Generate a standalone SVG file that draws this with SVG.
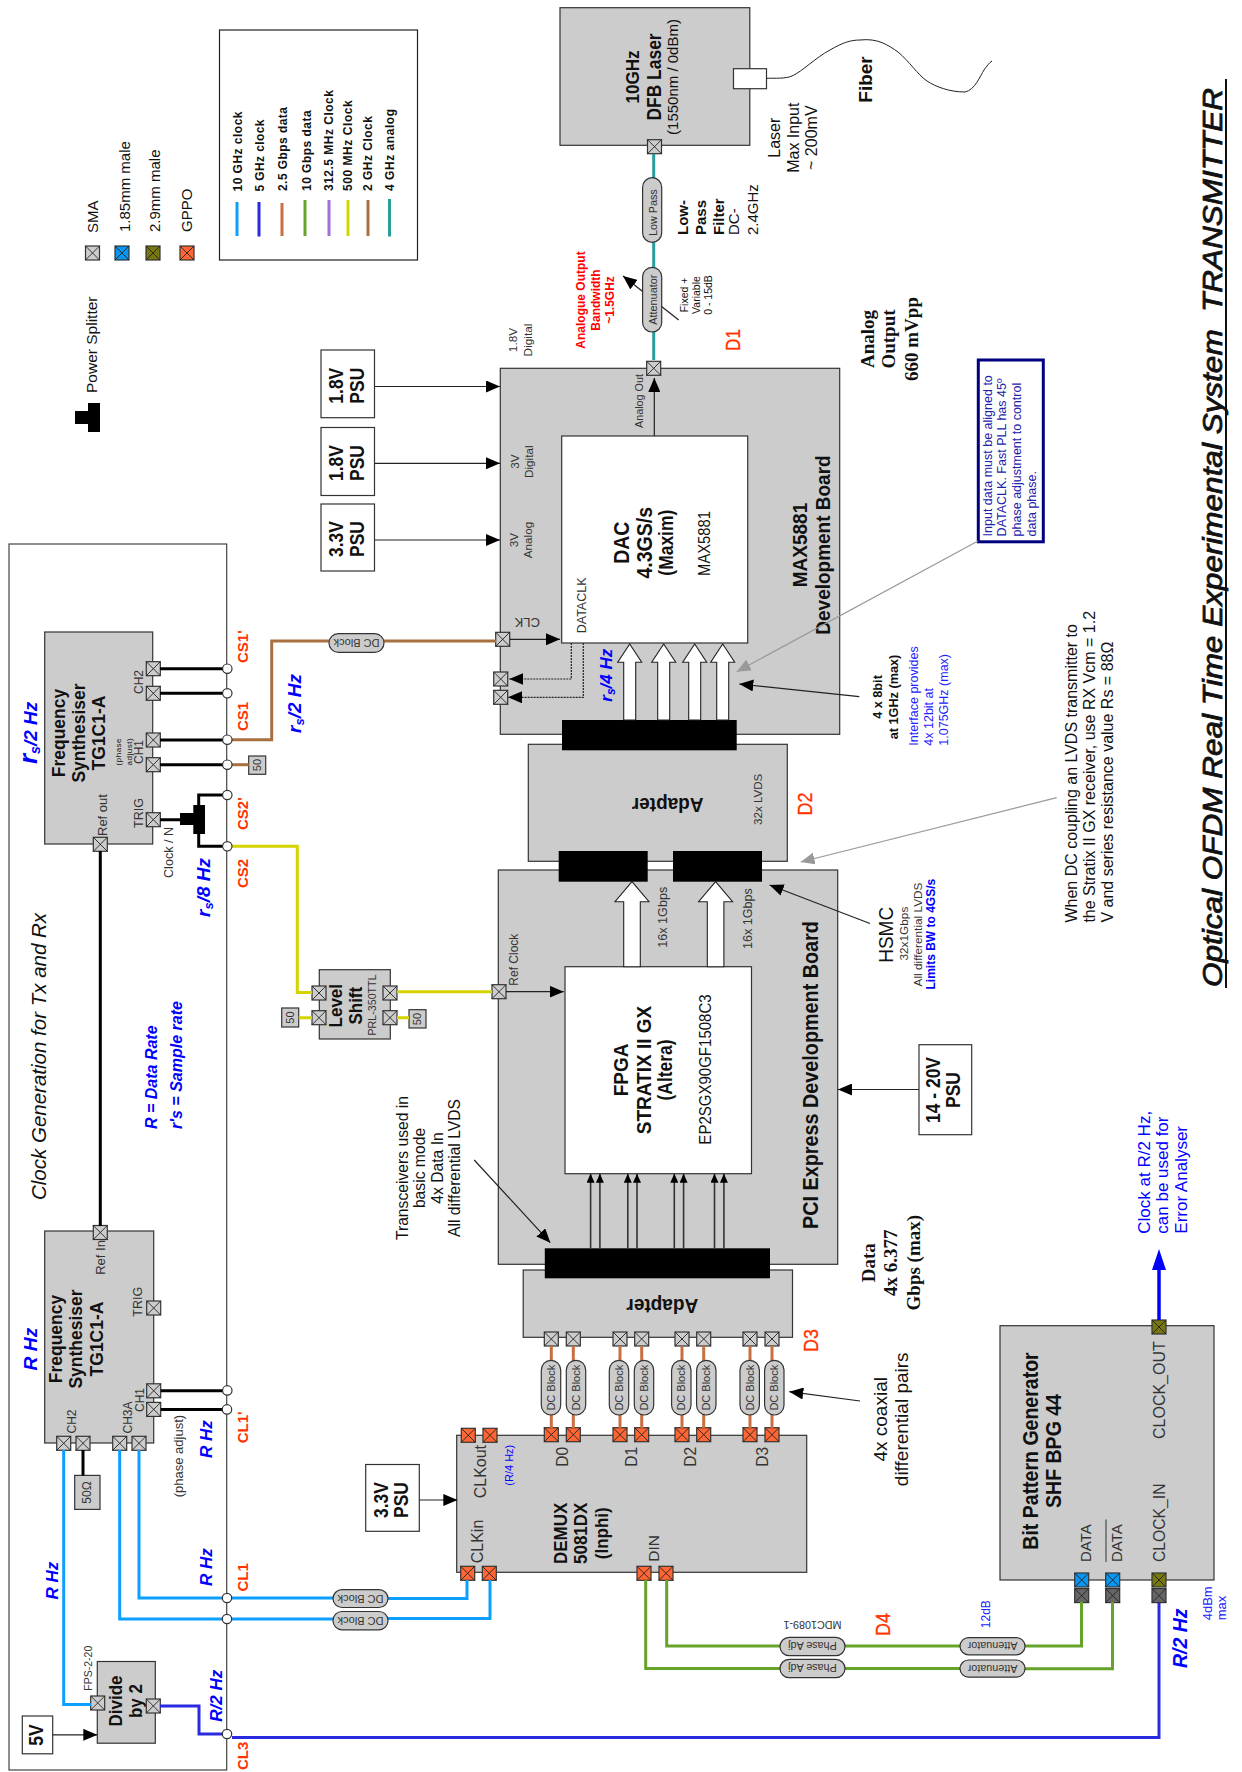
<svg xmlns="http://www.w3.org/2000/svg" xmlns:xlink="http://www.w3.org/1999/xlink" width="1242" height="1772" viewBox="0 0 1242 1772">
<style>
text{font-family:"Liberation Sans",Arial,sans-serif;fill:#111}
.b{font-weight:700}.m{text-anchor:middle}.i{font-style:italic}
.g{fill:#333}.bl{fill:#0000ff}.biz{font-weight:700;font-style:italic;fill:#0000ff}
.red{fill:#ff3300;font-weight:700;font-size:15px}
.dl{fill:#ff3300;stroke:#ff3300;stroke-width:.35}
.ser{font-family:"Liberation Serif","Times New Roman",serif;font-weight:700;font-size:19px}
.box{fill:#cccccc;stroke:#333;stroke-width:1.2}
.wh{fill:#fff;stroke:#333;stroke-width:1.2}
.cap{fill:#cccccc;stroke:#333;stroke-width:1.2}
.w{fill:none;stroke-width:3;stroke-linejoin:miter}
.blk{stroke:#000}.sky{stroke:#0d9fff}.dbl{stroke:#2a2ae0}.org{stroke:#c87040}.grn{stroke:#66a32a}.pur{stroke:#a070d8}.yel{stroke:#d4d400}.brn{stroke:#a87040}.tea{stroke:#2a9d9d}
.thin{fill:none;stroke:#222;stroke-width:1.2}
.gr{fill:none;stroke:#999;stroke-width:1.2}
.pc{fill:#fff;stroke:#333;stroke-width:1.2}
.x{fill:none;stroke:#222;stroke-width:.9}
.bar{fill:#000}
.ba{fill:#fff;stroke:#222;stroke-width:1.1}
.cb{fill:#2222aa}.ib{fill:#2222ff}
</style>
<defs>
<path id="xx" class="x" d="M-7-7L7 7M7-7L-7 7"/>
<g id="pS"><rect x="-7" y="-7" width="14" height="14" fill="#ccc" stroke="#333" stroke-width="1.2"/><use xlink:href="#xx"/></g>
<g id="pG"><rect x="-7" y="-7" width="14" height="14" fill="#ff6633" stroke="#333" stroke-width="1.2"/><use xlink:href="#xx"/></g>
<g id="pB"><rect x="-7" y="-7" width="14" height="14" fill="#0a96ee" stroke="#333" stroke-width="1.2"/><use xlink:href="#xx"/></g>
<g id="pO"><rect x="-7" y="-7" width="14" height="14" fill="#777711" stroke="#333" stroke-width="1.2"/><use xlink:href="#xx"/></g>
<g id="pD"><rect x="-7" y="-7" width="14" height="14" fill="#666" stroke="#333" stroke-width="1.2"/><use xlink:href="#xx"/></g>
<marker id="a" markerUnits="userSpaceOnUse" markerWidth="14" markerHeight="12" refX="14" refY="6" orient="auto"><path d="M0 0L14 6L0 12z" fill="#000"/></marker>
<marker id="as" markerUnits="userSpaceOnUse" markerWidth="9" markerHeight="8" refX="9" refY="4" orient="auto"><path d="M0 0L9 4L0 8z" fill="#000"/></marker>
<marker id="ag" markerUnits="userSpaceOnUse" markerWidth="14" markerHeight="12" refX="14" refY="6" orient="auto"><path d="M0 0L14 6L0 12z" fill="#999"/></marker>
</defs>

<g id="title">
<text transform="translate(1221.5 987) rotate(-90)" class="i" font-size="28" stroke="#111" stroke-width=".8" textLength="899" lengthAdjust="spacingAndGlyphs" xml:space="preserve">Optical OFDM Real Time Experimental System  TRANSMITTER</text>
<line x1="1226" y1="988" x2="1226" y2="79" stroke="#111" stroke-width="2"/>
</g>

<g id="legend">
<use xlink:href="#pS" x="92.5" y="253"/><use xlink:href="#pB" x="122" y="253"/><use xlink:href="#pO" x="153" y="253"/><use xlink:href="#pG" x="187" y="253"/>
<text transform="translate(98 233) rotate(-90)" font-size="15">SMA</text>
<text transform="translate(129.7 232) rotate(-90)" font-size="15">1.85mm male</text>
<text transform="translate(160 232) rotate(-90)" font-size="15">2.9mm male</text>
<text transform="translate(191.8 232) rotate(-90)" font-size="15">GPPO</text>
<text transform="translate(97 393) rotate(-90)" font-size="15.5">Power Splitter</text>
<path class="bar" d="M88 403H100V432H88V424H75V411H88z"/>
<rect x="219.5" y="30" width="198" height="230" fill="#fff" stroke="#222" stroke-width="1.2"/>
<g font-size="12" font-weight="700">
<text transform="translate(242 191.5) rotate(-90)" textLength="80">10 GHz clock</text>
<text transform="translate(264 191.5) rotate(-90)" textLength="72">5 GHz clock</text>
<text transform="translate(286.7 191) rotate(-90)" textLength="84">2.5 Gbps data</text>
<text transform="translate(311 191) rotate(-90)" textLength="80.7">10 Gbps data</text>
<text transform="translate(333.3 191) rotate(-90)" textLength="101">312.5 MHz Clock</text>
<text transform="translate(352.3 191) rotate(-90)" textLength="90.7">500 MHz Clock</text>
<text transform="translate(371.7 191) rotate(-90)" textLength="75">2 GHz Clock</text>
<text transform="translate(394.2 191) rotate(-90)" textLength="82">4 GHz analog</text>
</g>
<g class="w">
<line class="sky" x1="237" y1="202" x2="237" y2="236"/>
<line class="dbl" x1="259" y1="202" x2="259" y2="236.5"/>
<line class="org" x1="282" y1="203" x2="282" y2="236"/>
<line class="grn" x1="305" y1="200" x2="305" y2="236"/>
<line class="pur" x1="329" y1="200" x2="329" y2="236"/>
<line class="yel" x1="348" y1="200" x2="348" y2="236"/>
<line class="brn" x1="368" y1="200" x2="368" y2="236"/>
<line class="tea" x1="389.5" y1="199" x2="389.5" y2="236.5"/>
</g>
</g>

<g id="frame"><rect x="9" y="544" width="217.7" height="1226" fill="#fff" stroke="#444" stroke-width="1.2"/>
<text transform="translate(45.7 1200) rotate(-90)" class="i" font-size="20.5">Clock Generation for Tx and Rx</text>
<text transform="translate(156.7 1129) rotate(-90)" class="biz" font-size="16">R = Data Rate</text>
<text transform="translate(182 1129) rotate(-90)" class="biz" font-size="16">r's = Sample rate</text>
</g>

<g id="nodes">
<g id="psu18a"><rect class="wh" x="321" y="350" width="53.5" height="67.7"/><text transform="translate(343 385.7) rotate(-90) scale(.9 1)" class="b m" font-size="19.4"><tspan x="0">1.8V</tspan><tspan x="0" dy="20.8">PSU</tspan></text></g>
<g id="psu18b"><rect class="wh" x="321" y="427.5" width="53.5" height="68"/><text transform="translate(343 463) rotate(-90) scale(.9 1)" class="b m" font-size="19.4"><tspan x="0">1.8V</tspan><tspan x="0" dy="20.8">PSU</tspan></text></g>
<g id="psu33a"><rect class="wh" x="321" y="504" width="53.5" height="67"/><text transform="translate(343 539) rotate(-90) scale(.9 1)" class="b m" font-size="19.4"><tspan x="0">3.3V</tspan><tspan x="0" dy="20.8">PSU</tspan></text></g>
<g id="psu1420"><rect class="wh" x="919" y="1044.7" width="52.7" height="90"/><text transform="translate(940 1090) rotate(-90) scale(.9 1)" class="b m" font-size="19.4"><tspan x="0">14 - 20V</tspan><tspan x="0" dy="20">PSU</tspan></text></g>
<g id="psu33b"><rect class="wh" x="365.7" y="1464.5" width="53.6" height="66.8"/><text transform="translate(388.3 1500) rotate(-90) scale(.9 1)" class="b m" font-size="19.4"><tspan x="0">3.3V</tspan><tspan x="0" dy="20">PSU</tspan></text></g>
<g id="psu5"><rect class="wh" x="22.3" y="1716" width="30.4" height="37.8"/><text transform="translate(43.3 1735) rotate(-90) scale(.9 1)" class="b m" font-size="19.4">5V</text></g>

<g id="laser"><rect class="box" x="560" y="7.7" width="189.8" height="137.6"/>
<rect class="wh" x="733.5" y="68.7" width="33" height="20"/>
<text transform="translate(639 77) rotate(-90) scale(.9 1)" class="b m" font-size="18.9">10GHz</text>
<text transform="translate(660.5 77) rotate(-90) scale(.9 1)" class="b m" font-size="19.4">DFB Laser</text>
<text transform="translate(678 77) rotate(-90)" class="m" font-size="15">(1550nm / 0dBm)</text>
<use xlink:href="#pS" x="654.5" y="146.7"/></g>
<g id="notes-top">
<text transform="translate(872 102.7) rotate(-90)" class="b" font-size="19">Fiber</text>
<text transform="translate(780 137.7) rotate(-90)" class="m" font-size="16"><tspan x="0">Laser</tspan><tspan x="0" dy="18.5">Max Input</tspan><tspan x="0" dy="18">~ 200mV</tspan></text>
<g font-size="15"><text transform="translate(688 235) rotate(-90)" class="b">Low-</text><text transform="translate(706 235) rotate(-90)" class="b">Pass</text><text transform="translate(724 235) rotate(-90)" class="b">Filter</text><text transform="translate(739 235) rotate(-90)">DC-</text><text transform="translate(757.7 235) rotate(-90)">2.4GHz</text></g>
<text transform="translate(687.5 295) rotate(-90)" class="m" font-size="10.5"><tspan x="0">Fixed +</tspan><tspan x="0" dy="12">Variable</tspan><tspan x="0" dy="12.5">0 - 15dB</tspan></text>
<text transform="translate(585 300) rotate(-90)" class="b m" font-size="12" style="fill:#ff0000"><tspan x="0">Analogue Output</tspan><tspan x="0" dy="15">Bandwidth</tspan><tspan x="0" dy="14">~1.5GHz</tspan></text>
<text transform="translate(517 340) rotate(-90)" class="m g" font-size="11.8"><tspan x="0">1.8V</tspan><tspan x="0" dy="15">Digital</tspan></text>
<text class="dl" transform="translate(740 351) rotate(-90)" font-size="21" textLength="22" lengthAdjust="spacingAndGlyphs">D1</text>
<text transform="translate(874 339) rotate(-90)" class="ser m"><tspan x="0">Analog</tspan><tspan x="0" dy="20.6">Output</tspan><tspan x="0" dy="23">660 mVpp</tspan></text>
</g>
<g id="callout"><rect x="978.3" y="360" width="65" height="181.8" fill="#fff" stroke="#000080" stroke-width="3"/>
<g font-size="12.5"><text class="cb" transform="translate(991.7 536.4) rotate(-90)">Input data must be aligned to</text><text class="cb" transform="translate(1006 536.4) rotate(-90)">DATACLK. Fast PLL has 45º</text><text class="cb" transform="translate(1021 536.4) rotate(-90)">phase adjustment to control</text><text class="cb" transform="translate(1035.7 536.4) rotate(-90)">data phase.</text></g></g>

<g id="dac-board"><rect class="box" x="500.3" y="368.3" width="339.4" height="366"/>
<rect class="wh" x="561.7" y="436" width="186" height="207"/>
<text transform="translate(519.3 461.7) rotate(-90)" class="m g" font-size="11.7"><tspan x="0">3V</tspan><tspan x="0" dy="13.4">Digital</tspan></text>
<text transform="translate(518.3 540) rotate(-90)" class="m g" font-size="11.7"><tspan x="0">3V</tspan><tspan x="0" dy="14">Analog</tspan></text>
<text transform="translate(643.3 428) rotate(-90)" class="g" font-size="10.8">Analog Out</text>
<text transform="translate(585.7 633.3) rotate(-90)" class="g" font-size="12.5">DATACLK</text>
<text x="527.3" y="618.3" transform="rotate(180 527.3 618.3)" class="m g" font-size="13">CLK</text>
<text transform="translate(629 542.7) rotate(-90) scale(.9 1)" class="b m" font-size="21.7"><tspan x="0">DAC</tspan><tspan x="0" dy="22.7">4.3GS/s</tspan></text>
<text transform="translate(673.3 542.7) rotate(-90) scale(.9 1)" class="b m" font-size="19.4">(Maxim)</text>
<text transform="translate(710 543.5) rotate(-90) scale(.9 1)" class="m" font-size="16.4">MAX5881</text>
<text transform="translate(806.7 545) rotate(-90) scale(.9 1)" class="b m" font-size="21.1"><tspan x="0" dy="0">MAX5881</tspan><tspan x="0" dy="23.3">Development Board</tspan></text>
<text transform="translate(611.7 701.7) rotate(-90)" class="biz" font-size="17">r<tspan font-size="12" dy="3">s</tspan><tspan dy="-3">/4 Hz</tspan></text>
<use xlink:href="#pS" x="653.7" y="368.3"/><use xlink:href="#pS" x="502.7" y="639.3"/><use xlink:href="#pS" x="500.7" y="679"/><use xlink:href="#pS" x="500.7" y="697.3"/>
</g>

<g id="adapter-top"><rect class="box" x="528.3" y="744.3" width="259" height="117"/>
<text transform="translate(667.7 798.3) rotate(180) scale(.9 1)" class="b m" font-size="21.1">Adapter</text>
<text transform="translate(761.7 825) rotate(-90)" class="g" font-size="11.6">32x LVDS</text>
<text class="dl" transform="translate(812.3 815.5) rotate(-90)" font-size="21" textLength="23" lengthAdjust="spacingAndGlyphs">D2</text>
</g>

<g id="pci-board"><rect class="box" x="498.3" y="870" width="339.4" height="394.3"/>
<rect class="wh" x="565" y="966.7" width="186.5" height="207"/>
<text transform="translate(518.3 985.7) rotate(-90)" class="g" font-size="12">Ref Clock</text>
<text transform="translate(667 947.7) rotate(-90)" class="g" font-size="12.6">16x 1Gbps</text>
<text transform="translate(751.7 949) rotate(-90)" class="g" font-size="12.6">16x 1Gbps</text>
<text transform="translate(627.8 1070) rotate(-90) scale(.9 1)" class="b m" font-size="21.1"><tspan x="0">FPGA</tspan><tspan x="0" dy="23">STRATIX II GX</tspan></text>
<text transform="translate(671.5 1070) rotate(-90) scale(.9 1)" class="b m" font-size="19.4">(Altera)</text>
<text transform="translate(711 1069.5) rotate(-90) scale(.9 1)" class="m" font-size="16.7">EP2SGX90GF1508C3</text>
<text transform="translate(818 1075) rotate(-90) scale(.9 1)" class="b m" font-size="22">PCI Express Development Board</text>
<use xlink:href="#pS" x="499" y="991.7"/>
</g>

<g id="adapter-bottom"><rect class="box" x="523.2" y="1270" width="269.3" height="67.3"/>
<text transform="translate(662.3 1299) rotate(180) scale(.9 1)" class="b m" font-size="21.1">Adapter</text>
<use xlink:href="#pS" x="551.3" y="1339"/><use xlink:href="#pS" x="573.3" y="1339"/><use xlink:href="#pS" x="620" y="1339"/><use xlink:href="#pS" x="641.7" y="1339"/><use xlink:href="#pS" x="682" y="1339"/><use xlink:href="#pS" x="703.7" y="1339"/><use xlink:href="#pS" x="750" y="1339"/><use xlink:href="#pS" x="772" y="1339"/>
<text class="dl" transform="translate(817.7 1352) rotate(-90)" font-size="21" textLength="23" lengthAdjust="spacingAndGlyphs">D3</text>
</g>

<g id="bars"><rect class="bar" x="562" y="720" width="174.7" height="30.3"/><rect class="bar" x="558.7" y="851" width="89" height="30.7"/><rect class="bar" x="673" y="851" width="89" height="30.7"/><rect class="bar" x="544.8" y="1248.3" width="225.2" height="30"/></g>

<g id="block-arrows">
<path class="ba" d="M623.7 720V662.3H617.7L629.7 644L641.7 662.3H635.7V720z"/>
<path class="ba" d="M657.7 720V662.3H651.7L663.7 644L675.7 662.3H669.7V720z"/>
<path class="ba" d="M688.7 720V662.3H682.7L694.7 644L706.7 662.3H700.7V720z"/>
<path class="ba" d="M716.7 720V662.3H710.7L722.7 644L734.7 662.3H728.7V720z"/>
<path class="ba" d="M623.7 966.7V901.7H615L632 881.7L649 901.7H640.3V966.7z"/>
<path class="ba" d="M707.3 966.7V901.7H698.6L715.6 881.7L732.6 901.7H723.9V966.7z"/>
</g>

<g id="fs-top"><rect class="box" x="44.7" y="632" width="108" height="212"/>
<text transform="translate(65 733) rotate(-90) scale(.92 1)" class="b m" font-size="19"><tspan x="0">Frequency</tspan><tspan x="0" dy="20">Synthesiser</tspan><tspan x="0" dy="20">TG1C1-A</tspan></text>
<text transform="translate(106.7 836) rotate(-90)" class="g" font-size="13">Ref out</text>
<text transform="translate(143 694) rotate(-90)" class="g" font-size="12">CH2</text>
<text transform="translate(143 764) rotate(-90)" class="g" font-size="12">CH1</text>
<text transform="translate(143 828) rotate(-90)" class="g" font-size="12.5">TRIG</text>
<text transform="translate(120.7 751.7) rotate(-90)" class="m" font-size="8" letter-spacing=".5"><tspan x="0">(phase</tspan><tspan x="0" dy="11">adjust)</tspan></text>
<use xlink:href="#pS" x="153.3" y="668.7"/><use xlink:href="#pS" x="153.3" y="693.3"/><use xlink:href="#pS" x="153.3" y="740"/><use xlink:href="#pS" x="153.3" y="764.7"/><use xlink:href="#pS" x="153.3" y="819.7"/><use xlink:href="#pS" x="100.3" y="844.3"/>
</g>
<g id="fs-bottom"><rect class="box" x="44.7" y="1231" width="109" height="212"/>
<text transform="translate(62.3 1339) rotate(-90) scale(.92 1)" class="b m" font-size="19"><tspan x="0">Frequency</tspan><tspan x="0" dy="20">Synthesiser</tspan><tspan x="0" dy="20.4">TG1C1-A</tspan></text>
<text transform="translate(105 1274.8) rotate(-90)" class="g" font-size="13">Ref In</text>
<text transform="translate(141.7 1316.7) rotate(-90)" class="g" font-size="12.5">TRIG</text>
<text transform="translate(144 1412) rotate(-90)" class="g" font-size="12">CH1</text>
<text transform="translate(131.7 1433.5) rotate(-90)" class="g" font-size="12">CH3A</text>
<text transform="translate(76 1433.5) rotate(-90)" class="g" font-size="12">CH2</text>
<use xlink:href="#pS" x="100.3" y="1232.5"/><use xlink:href="#pS" x="153.7" y="1308"/><use xlink:href="#pS" x="153.7" y="1390.8"/><use xlink:href="#pS" x="153.7" y="1409.4"/><use xlink:href="#pS" x="63.7" y="1443.3"/><use xlink:href="#pS" x="83" y="1443.3"/><use xlink:href="#pS" x="119.7" y="1443.3"/><use xlink:href="#pS" x="139" y="1443.3"/>
</g>
<g id="term50"><rect class="box" x="74.7" y="1475.4" width="25.3" height="34"/><text transform="translate(91 1492.5) rotate(-90)" class="m g" font-size="12">50Ω</text></g>
<g id="divide"><rect class="box" x="97.3" y="1661.5" width="58" height="81.7"/>
<text transform="translate(121.7 1701) rotate(-90) scale(.9 1)" class="b m" font-size="18.9"><tspan x="0">Divide</tspan><tspan x="0" dy="20">by 2</tspan></text>
<text transform="translate(91.7 1690.7) rotate(-90)" class="g" font-size="10.5">FPS-2-20</text>
<use xlink:href="#pS" x="97.7" y="1703"/><use xlink:href="#pS" x="153.3" y="1706"/></g>

<g id="level-shift"><rect class="box" x="319.3" y="969.7" width="71" height="69.3"/>
<text transform="translate(342.3 1005.7) rotate(-90) scale(.9 1)" class="b m" font-size="18.9"><tspan x="0">Level</tspan><tspan x="0" dy="19.7">Shift</tspan></text>
<text transform="translate(375.7 1005) rotate(-90)" class="m g" font-size="10.7">PRL-350TTL</text>
<use xlink:href="#pS" x="319" y="993"/><use xlink:href="#pS" x="319" y="1017.7"/><use xlink:href="#pS" x="390" y="993"/><use xlink:href="#pS" x="390" y="1017.7"/></g>
<g id="t50a"><rect class="box" x="248.7" y="756" width="17" height="18.3"/><text transform="translate(261 765) rotate(-90)" class="m g" font-size="11">50</text></g>
<g id="t50b"><rect class="box" x="281.7" y="1008" width="17" height="19"/><text transform="translate(294 1017.5) rotate(-90)" class="m g" font-size="11">50</text></g>
<g id="t50c"><rect class="box" x="409" y="1009.7" width="17" height="18.3"/><text transform="translate(421.3 1019) rotate(-90)" class="m g" font-size="11">50</text></g>

<g id="demux"><rect class="box" x="456.7" y="1435.3" width="350" height="137"/>
<text transform="translate(486 1498.3) rotate(-90)" class="g" font-size="16">CLKout</text>
<text transform="translate(483.3 1563.3) rotate(-90)" class="g" font-size="16">CLKin</text>
<text class="bl" transform="translate(513.3 1485.7) rotate(-90)" font-size="11">(R/4 Hz)</text>
<text transform="translate(567.7 1466.7) rotate(-90)" class="g" font-size="15.6">D0</text>
<text transform="translate(637.3 1466.7) rotate(-90)" class="g" font-size="15.6">D1</text>
<text transform="translate(696 1466.7) rotate(-90)" class="g" font-size="15.6">D2</text>
<text transform="translate(767.7 1466.7) rotate(-90)" class="g" font-size="15.6">D3</text>
<text transform="translate(567.3 1533.3) rotate(-90) scale(.9 1)" class="b m" font-size="18.9"><tspan x="0">DEMUX</tspan><tspan x="0" dy="20">5081DX</tspan><tspan x="0" dy="21">(Inphi)</tspan></text>
<text transform="translate(659.3 1561.7) rotate(-90)" class="g" font-size="15.5">DIN</text>
<use xlink:href="#pG" x="468.3" y="1435.3"/><use xlink:href="#pG" x="490" y="1435.3"/><use xlink:href="#pG" x="551.3" y="1434.7"/><use xlink:href="#pG" x="573.3" y="1434.7"/><use xlink:href="#pG" x="620" y="1434.7"/><use xlink:href="#pG" x="641.7" y="1434.7"/><use xlink:href="#pG" x="682" y="1434.7"/><use xlink:href="#pG" x="703.7" y="1434.7"/><use xlink:href="#pG" x="750" y="1434.7"/><use xlink:href="#pG" x="772" y="1434.7"/>
<use xlink:href="#pG" x="467.7" y="1573.3"/><use xlink:href="#pG" x="489.3" y="1573.3"/><use xlink:href="#pG" x="644" y="1573.3"/><use xlink:href="#pG" x="666" y="1573.3"/>
</g>

<g id="bpg"><rect class="box" x="1000" y="1325.7" width="214" height="254.3"/>
<text transform="translate(1038.3 1451) rotate(-90) scale(.9 1)" class="b m" font-size="21.7"><tspan x="0">Bit Pattern Generator</tspan><tspan x="0" dy="22.7">SHF BPG 44</tspan></text>
<text transform="translate(1090.7 1562) rotate(-90)" class="g" font-size="15">DATA</text>
<text transform="translate(1121.7 1562) rotate(-90)" class="g" font-size="15">DATA</text>
<line x1="1106" y1="1562" x2="1106" y2="1519.5" stroke="#333" stroke-width="1"/>
<text transform="translate(1165 1562) rotate(-90)" class="g" font-size="15.7">CLOCK_IN</text>
<text transform="translate(1165 1439) rotate(-90)" class="g" font-size="16">CLOCK_OUT</text>
<use xlink:href="#pB" x="1081.7" y="1580"/><use xlink:href="#pD" x="1081.7" y="1595.6"/><use xlink:href="#pB" x="1112.7" y="1580"/><use xlink:href="#pD" x="1112.7" y="1595.6"/><use xlink:href="#pO" x="1159" y="1580"/><use xlink:href="#pD" x="1159" y="1595.6"/><use xlink:href="#pO" x="1159" y="1327"/>
</g>
</g>

<g id="connectors">
<path class="w tea" d="M653.7 154V360"/>
<path class="thin" d="M654.3 436V378" marker-end="url(#a)"/>
<path class="thin" d="M678.7 320L623 276" marker-end="url(#a)"/>
<path d="M766.4 78.3C775 78 785 79 792 76C803 71 815 58 830 50C842 43 850 40 860 40C878 38 888 45 898 52C910 62 917 74 927 81C936 87 950 92 965 92C975 90 980 76 984 70C987 66 989 63 992 61" fill="none" stroke="#222" stroke-width="1"/>
<path class="thin" d="M375 386.5H500" marker-end="url(#a)"/>
<path class="thin" d="M375 463.3H500" marker-end="url(#a)"/>
<path class="thin" d="M375 540H500" marker-end="url(#a)"/>
<path class="thin" d="M510 639.3H560" marker-end="url(#a)"/>
<path class="thin" d="M571.3 643V679H509.3" stroke-dasharray="2 1" marker-end="url(#a)"/>
<path class="thin" d="M583.3 643V697.3H508" stroke-dasharray="2 1" marker-end="url(#a)"/>
<path class="gr" d="M978 541L736.7 671.7" marker-end="url(#ag)"/>
<path class="gr" d="M1056.7 797.6L800.7 862" marker-end="url(#ag)"/>
<path class="thin" d="M859.3 696.7L739.3 684" marker-end="url(#a)"/>
<path class="thin" d="M870 923.5L769.6 885" marker-end="url(#a)"/>
<path class="thin" d="M474.2 1160L550.3 1242.7" marker-end="url(#a)"/>
<path class="thin" d="M860 1401L789.3 1391.7" marker-end="url(#a)"/>
<path class="thin" d="M919 1089.5H838" marker-end="url(#a)"/>
<path class="thin" d="M506 991.7H563.7" marker-end="url(#a)"/>
<path class="thin" d="M52.7 1734.8H97.3" marker-end="url(#a)"/>
<path class="thin" d="M419.3 1500H457.3" marker-end="url(#a)"/>
<g stroke="#333" stroke-width="1.6" fill="none">
<path d="M590.6 1248.3V1173.7" marker-end="url(#as)"/><path d="M599.9 1248.3V1173.7" marker-end="url(#as)"/><path d="M627.8 1248.3V1173.7" marker-end="url(#as)"/><path d="M637 1248.3V1173.7" marker-end="url(#as)"/><path d="M674.3 1248.3V1173.7" marker-end="url(#as)"/><path d="M683.6 1248.3V1173.7" marker-end="url(#as)"/><path d="M714.5 1248.3V1173.7" marker-end="url(#as)"/><path d="M723.9 1248.3V1173.7" marker-end="url(#as)"/>
</g>
<g class="w blk">
<path d="M160 668.7H223M160 693.3H223M160 740H223M160 764.7H223M160 819.7H180"/>
<path d="M100.3 851V1226"/>
<path d="M198.7 805V795H223M198.7 834V846.3H223"/>
<path d="M160.7 1390.8H223M160.7 1409.4H223"/>
<path d="M83 1450V1475.4"/>
</g>
<path class="bar" d="M193.3 805H205V834H193.3V825H180V813H193.3z"/>
<g class="w brn"><path d="M232 739.7H271.7V641H329M384 641H496"/><path d="M232 764.7H248.7"/></g>
<g class="w yel"><path d="M232 846.3H297.3V992.5H312"/><path d="M397 991.7H492"/><path d="M298.7 1017.7H312M397 1017.7H409"/></g>
<g class="w org"><path d="M551.3 1346V1428M573.3 1346V1428M620 1346V1428M641.7 1346V1428M682 1346V1428M703.7 1346V1428M750 1346V1428M772 1346V1428"/></g>
<g class="w sky"><path d="M63.7 1450V1704.5H91"/><path d="M119.7 1450V1619H333M388 1618.5H490V1580"/><path d="M139 1450V1598H333M388 1598.4H467V1580"/></g>
<g class="w dbl"><path d="M160 1706H199V1734H223M232 1737.4H1159V1603"/></g>
<path d="M1159 1320V1268" fill="none" stroke="#0000ff" stroke-width="3.5"/><path d="M1152 1270L1159 1249L1166 1270z" fill="#0000ff"/>
<g class="w grn"><path d="M645.7 1580V1668.5H780M845 1668.5H960M1025 1668.7H1112.5V1602"/><path d="M666.7 1580V1646H780M845 1646H960M1025 1646H1081.5V1602"/></g>
</g>

<g id="circles">
<circle class="pc" cx="227.3" cy="668.7" r="4.7"/><circle class="pc" cx="227.3" cy="693.3" r="4.7"/><circle class="pc" cx="227.3" cy="739.7" r="4.7"/><circle class="pc" cx="227.3" cy="764.7" r="4.7"/><circle class="pc" cx="227.3" cy="795" r="4.7"/><circle class="pc" cx="227.3" cy="846.3" r="4.7"/><circle class="pc" cx="227.3" cy="1390.4" r="4.7"/><circle class="pc" cx="227" cy="1409.4" r="4.7"/><circle class="pc" cx="227" cy="1598" r="4.7"/><circle class="pc" cx="227" cy="1619" r="4.7"/><circle class="pc" cx="227" cy="1734" r="4.7"/>
</g>

<g id="capsules">
<g id="att1"><rect class="cap" x="642.6" y="267.3" width="19.1" height="64.7" rx="9.5"/><text transform="translate(657 299.7) rotate(-90)" class="m g" font-size="10.9">Attenuator</text></g>
<g id="lp"><rect class="cap" x="642.6" y="177.7" width="19.1" height="64.6" rx="9.5"/><text transform="translate(657 212.7) rotate(-90)" class="m g" font-size="10.8">Low Pass</text></g>
<g id="dcb1"><rect class="cap" x="329" y="633.7" width="55" height="18.6" rx="9.3"/><text x="356.5" y="638.5" transform="rotate(180 356.5 638.5)" class="m g" font-size="11">DC Block</text></g>
<g id="dcb2"><rect class="cap" x="333" y="1589.6" width="55" height="17.9" rx="9"/><text x="360.5" y="1594.5" transform="rotate(180 360.5 1594.5)" class="m g" font-size="11">DC Block</text></g>
<g id="dcb3"><rect class="cap" x="333" y="1611.5" width="55" height="18.3" rx="9"/><text x="360.5" y="1616.5" transform="rotate(180 360.5 1616.5)" class="m g" font-size="11">DC Block</text></g>
<g id="pa1"><rect class="cap" x="780" y="1637.3" width="65" height="18.4" rx="9.2"/><text x="812.5" y="1642" transform="rotate(180 812.5 1642)" class="m g" font-size="10.8">Phase Adj</text></g>
<g id="pa2"><rect class="cap" x="780" y="1659.3" width="65" height="18.4" rx="9.2"/><text x="812.5" y="1664" transform="rotate(180 812.5 1664)" class="m g" font-size="10.8">Phase Adj</text></g>
<g id="att2"><rect class="cap" x="960" y="1637.6" width="65" height="17.2" rx="8.6"/><text x="992.5" y="1642" transform="rotate(180 992.5 1642)" class="m g" font-size="10.8">Attenuator</text></g>
<g id="att3"><rect class="cap" x="960" y="1660" width="65" height="17.2" rx="8.6"/><text x="992.5" y="1664.5" transform="rotate(180 992.5 1664.5)" class="m g" font-size="10.8">Attenuator</text></g>
<g id="dcbs" font-size="11">
<g id="dc01"><rect class="cap" x="541.3" y="1360.3" width="19.4" height="54.7" rx="9.7"/><text transform="translate(555 1387.7) rotate(-90)" class="m g">DC Block</text></g>
<g id="dc02"><rect class="cap" x="566.3" y="1360.3" width="19.4" height="54.7" rx="9.7"/><text transform="translate(580 1387.7) rotate(-90)" class="m g">DC Block</text></g>
<g id="dc03"><rect class="cap" x="609.3" y="1360.3" width="19.4" height="54.7" rx="9.7"/><text transform="translate(623 1387.7) rotate(-90)" class="m g">DC Block</text></g>
<g id="dc04"><rect class="cap" x="634.3" y="1360.3" width="19.4" height="54.7" rx="9.7"/><text transform="translate(648 1387.7) rotate(-90)" class="m g">DC Block</text></g>
<g id="dc05"><rect class="cap" x="671.6" y="1360.3" width="19.4" height="54.7" rx="9.7"/><text transform="translate(685.3 1387.7) rotate(-90)" class="m g">DC Block</text></g>
<g id="dc06"><rect class="cap" x="696.6" y="1360.3" width="19.4" height="54.7" rx="9.7"/><text transform="translate(710.3 1387.7) rotate(-90)" class="m g">DC Block</text></g>
<g id="dc07"><rect class="cap" x="740" y="1360.3" width="19.4" height="54.7" rx="9.7"/><text transform="translate(753.7 1387.7) rotate(-90)" class="m g">DC Block</text></g>
<g id="dc08"><rect class="cap" x="764.6" y="1360.3" width="19.4" height="54.7" rx="9.7"/><text transform="translate(778.3 1387.7) rotate(-90)" class="m g">DC Block</text></g>
</g>
</g>

<g id="labels">
<text class="red" transform="translate(247.5 663) rotate(-90)">CS1'</text>
<text class="red" transform="translate(247.5 731) rotate(-90)">CS1</text>
<text class="red" transform="translate(247.5 830) rotate(-90)">CS2'</text>
<text class="red" transform="translate(247.5 888) rotate(-90)">CS2</text>
<text class="red" transform="translate(247.5 1443.3) rotate(-90)">CL1'</text>
<text class="red" transform="translate(247.5 1591.5) rotate(-90)">CL1</text>
<text class="red" transform="translate(247.5 1770) rotate(-90)">CL3</text>
<text class="biz" transform="translate(37 764) rotate(-90)" font-size="19"><tspan font-size="26">r</tspan><tspan font-size="14" dy="3">s</tspan><tspan dy="-3">/2 Hz</tspan></text>
<text class="biz" transform="translate(300.7 733) rotate(-90)" font-size="19">r<tspan font-size="13" dy="3">s</tspan><tspan dy="-3">/2 Hz</tspan></text>
<text class="biz" transform="translate(210 917) rotate(-90)" font-size="19">r<tspan font-size="13" dy="3">s</tspan><tspan dy="-3">/8 Hz</tspan></text>
<text class="g" transform="translate(172.7 878) rotate(-90)" font-size="12.6">Clock / N</text>
<text class="biz" transform="translate(36.7 1370.4) rotate(-90)" font-size="19.2">R Hz</text>
<text class="biz" transform="translate(211.7 1458) rotate(-90)" font-size="17">R Hz</text>
<text class="biz" transform="translate(211.7 1586) rotate(-90)" font-size="17">R Hz</text>
<text class="biz" transform="translate(58.3 1599.5) rotate(-90)" font-size="17">R Hz</text>
<text class="biz" transform="translate(221.7 1721.7) rotate(-90)" font-size="17">R/2 Hz</text>
<text class="g" transform="translate(183.3 1497.3) rotate(-90)" font-size="13">(phase adjust)</text>
<text class="b m" transform="translate(882.3 697) rotate(-90)" font-size="12.7"><tspan x="0">4 x 8bit</tspan><tspan x="0" dy="15.4">at 1GHz (max)</tspan></text>
<g font-size="12.5"><text class="ib" transform="translate(917.7 745.7) rotate(-90)">Interface provides</text><text class="ib" transform="translate(932.7 745.7) rotate(-90)">4x 12bit at</text><text class="ib" transform="translate(948.3 745.7) rotate(-90)">1.075GHz (max)</text></g>
<text transform="translate(892.7 962.8) rotate(-90) scale(.9 1)" font-size="21.1">HSMC</text>
<text class="g" transform="translate(907.7 960.5) rotate(-90)" font-size="11.8">32x1Gbps</text>
<text class="g" transform="translate(921.7 986.4) rotate(-90)" font-size="11.8">All differential LVDS</text>
<text class="biz" style="font-style:normal" transform="translate(935 989.5) rotate(-90)" font-size="12">Limits BW to 4GS/s</text>
<g font-size="16"><text transform="translate(1076.7 922.6) rotate(-90)">When DC coupling an LVDS transmitter to</text><text transform="translate(1095 922.6) rotate(-90)">the Stratix II GX receiver, use RX Vcm = 1.2</text><text transform="translate(1112.7 922.6) rotate(-90)">V and series resistance value Rs = 88Ω</text></g>
<text class="m" transform="translate(408 1168) rotate(-90)" font-size="15.7"><tspan x="0">Transceivers used in</tspan><tspan x="0" dy="17.3">basic mode</tspan><tspan x="0" dy="17.2">4x Data In</tspan><tspan x="0" dy="17.2">All differential LVDS</tspan></text>
<text class="m" transform="translate(886.7 1419.3) rotate(-90)" font-size="19"><tspan x="0">4x coaxial</tspan><tspan x="0" dy="21.6">differential pairs</tspan></text>
<text class="ser m" transform="translate(875 1262.7) rotate(-90)"><tspan x="0">Data</tspan><tspan x="0" dy="22.3">4x 6.377</tspan><tspan x="0" dy="22.7">Gbps (max)</tspan></text>
<text class="dl" transform="translate(890 1636) rotate(-90)" font-size="21" textLength="23" lengthAdjust="spacingAndGlyphs">D4</text>
<text x="812.5" y="1620.7" transform="rotate(180 812.5 1620.7)" class="m g" font-size="10.8">MDC1089-1</text>
<text class="ib" transform="translate(990 1628.2) rotate(-90)" font-size="12">12dB</text>
<text class="biz" transform="translate(1186.7 1668) rotate(-90)" font-size="19.5">R/2 Hz</text>
<g font-size="13"><text class="ib" transform="translate(1211.7 1620.3) rotate(-90)">4dBm</text><text class="ib" transform="translate(1225.7 1620.3) rotate(-90)">max</text></g>
<g font-size="17"><text class="bl" transform="translate(1150 1233.7) rotate(-90)">Clock at R/2 Hz,</text><text class="bl" transform="translate(1168 1233.7) rotate(-90)">can be used for</text><text class="bl" transform="translate(1186.7 1233.7) rotate(-90)">Error Analyser</text></g>
</g>
</svg>
